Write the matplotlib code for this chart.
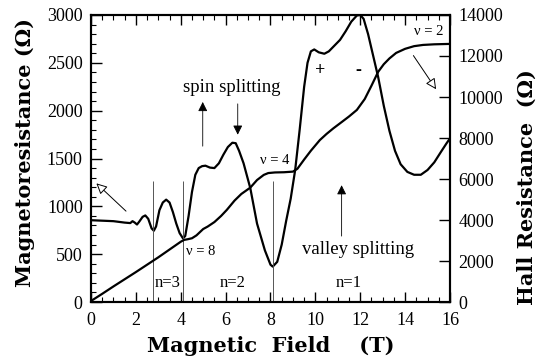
import matplotlib
matplotlib.use("Agg")
import matplotlib.pyplot as plt
from matplotlib.ticker import MultipleLocator

plt.rcParams["font.family"] = ["Liberation Serif", "DejaVu Serif"]

# magnetoresistance (left axis)
mr_field = [0.0, 0.5, 1.0, 1.5, 1.75, 1.85, 1.95, 2.05, 2.15, 2.3, 2.42, 2.55, 2.7, 2.8,
            2.9, 3.05, 3.2, 3.35, 3.5, 3.65, 3.8, 3.95, 4.1, 4.2, 4.35, 4.5, 4.65, 4.8,
            4.95, 5.1, 5.3, 5.5, 5.7, 5.9, 6.1, 6.3, 6.45, 6.6, 6.8, 7.1, 7.4, 7.75,
            8.0, 8.1, 8.3, 8.5, 8.7, 8.9, 9.1, 9.3, 9.5, 9.65, 9.8, 9.95, 10.15, 10.4,
            10.6, 10.85, 11.1, 11.35, 11.6, 11.85, 12.0, 12.15, 12.35, 12.55, 12.8,
            13.05, 13.3, 13.55, 13.8, 14.1, 14.4, 14.7, 15.0, 15.3, 15.6, 15.85, 16.0]
mr_ohm = [855, 850, 845, 830, 825, 845, 830, 810, 840, 890, 905, 870, 770, 745,
          790, 960, 1040, 1070, 1040, 940, 820, 720, 665, 690, 900, 1150, 1330, 1400,
          1420, 1425, 1405, 1400, 1450, 1540, 1620, 1665, 1660, 1580, 1450, 1190, 820, 540,
          390, 370, 420, 600, 850, 1080, 1380, 1800, 2250, 2500, 2620, 2640, 2610, 2595,
          2620, 2680, 2740, 2830, 2930, 2995, 3000, 2960, 2800, 2600, 2350,
          2050, 1790, 1580, 1440, 1360, 1330, 1330, 1380, 1460, 1570, 1660, 1710]

# Hall resistance (right axis)
hall_field = [0.0, 0.5, 1.0, 1.5, 2.0, 2.5, 3.0, 3.5, 4.0, 4.15, 4.3, 4.5, 4.7, 5.0,
              5.2, 5.5, 5.8, 6.05, 6.4, 6.7, 7.1, 7.4, 7.7, 7.9, 8.2, 8.6, 9.0, 9.2,
              9.5, 9.8, 10.2, 10.5, 10.8, 11.2, 11.5, 11.85, 12.2, 12.5, 12.8, 13.05,
              13.3, 13.6, 14.0, 14.4, 14.8, 15.3, 16.0]
hall_ohm = [50, 400, 760, 1110, 1460, 1820, 2180, 2560, 2940, 3030, 3060, 3110, 3250, 3560,
            3680, 3900, 4200, 4490, 4950, 5270, 5580, 5950, 6200, 6290, 6320, 6330, 6360, 6500,
            6950, 7380, 7900, 8200, 8470, 8800, 9050, 9370, 9900, 10550, 11230, 11600,
            11880, 12150, 12350, 12480, 12540, 12570, 12590]

# Landau level boundaries
level_lines = [2.78, 4.12, 8.1]
level_labels = ["n=3", "n=2", "n=1"]
level_label_x = [3.4, 6.3, 11.5]

label_font = dict(family="DejaVu Serif", fontsize=15, fontweight="bold")

fig = plt.figure(figsize=(5.43, 3.64), dpi=100)
ax = fig.add_axes([0.1676, 0.1703, 0.6611, 0.7885])
ax2 = ax.twinx()

ax.plot(mr_field, mr_ohm, color="black", lw=1.6)
ax2.plot(hall_field, hall_ohm, color="black", lw=1.6)

ax.vlines(level_lines, 0, 1270, color="#555555", lw=0.7)
for lx, lab in zip(level_label_x, level_labels):
    ax.text(lx, 200, lab, ha="center", va="center", fontsize=12)

ax.set_xlim(0, 16)
ax.set_ylim(0, 3000)
ax2.set_ylim(0, 14000)

ax.xaxis.set_major_locator(MultipleLocator(2))
ax.xaxis.set_minor_locator(MultipleLocator(0.5))
ax.yaxis.set_major_locator(MultipleLocator(500))
ax.yaxis.set_minor_locator(MultipleLocator(100))
ax2.yaxis.set_major_locator(MultipleLocator(2000))

ax.tick_params(which="both", direction="in", top=True, right=False, labelsize=13)
ax.tick_params(which="major", length=7, width=1)
ax.tick_params(which="minor", length=3.5, width=0.8)
ax.tick_params(axis="x", which="major", pad=7)
ax.tick_params(axis="y", which="major", length=8, pad=6)
ax2.tick_params(which="major", direction="in", length=8, width=1, labelsize=13, pad=6)
for a in (ax, ax2):
    for s in a.spines.values():
        s.set_linewidth(1.5)

ax.set_xlabel("Magnetic  Field    (T)", labelpad=5, **label_font)
ax.set_ylabel("Magnetoresistance (Ω)", **label_font)
ax.yaxis.set_label_coords(-0.155, 0.52)
ax2.set_ylabel("Hall Resistance  (Ω)", **label_font)
ax2.yaxis.set_label_coords(1.185, 0.40)

# annotations
ax.text(6.27, 2240, "spin splitting", ha="center", va="center", fontsize=13.5)
ax.annotate("", xy=(4.98, 2120), xytext=(4.98, 1600),
            arrowprops=dict(arrowstyle="-|>", color="black", lw=0.6, mutation_scale=14))
ax.annotate("", xy=(6.54, 1720), xytext=(6.54, 2100),
            arrowprops=dict(arrowstyle="-|>", color="black", lw=0.6, mutation_scale=14))
ax.text(11.9, 545, "valley splitting", ha="center", va="center", fontsize=13.5)
ax.annotate("", xy=(11.17, 1250), xytext=(11.17, 660),
            arrowprops=dict(arrowstyle="-|>", color="black", lw=0.6, mutation_scale=14))
ax.text(4.25, 530, "ν = 8", ha="left", va="center", fontsize=10.5)
ax.text(8.2, 1480, "ν = 4", ha="center", va="center", fontsize=10.5)
ax.text(15.05, 2830, "ν = 2", ha="center", va="center", fontsize=10.5)
ax.text(10.2, 2420, "+", ha="center", va="center", fontsize=13, fontweight="bold")
ax.text(11.9, 2420, "-", ha="center", va="center", fontsize=13, fontweight="bold")
ax.annotate("", xy=(0.15, 1260), xytext=(1.65, 930),
            arrowprops=dict(arrowstyle="-|>", fc="white", ec="black", lw=0.7, mutation_scale=16))
ax.annotate("", xy=(15.45, 2200), xytext=(14.3, 2600),
            arrowprops=dict(arrowstyle="-|>", fc="white", ec="black", lw=0.7, mutation_scale=16))

fig.savefig("out.png", dpi=100)
